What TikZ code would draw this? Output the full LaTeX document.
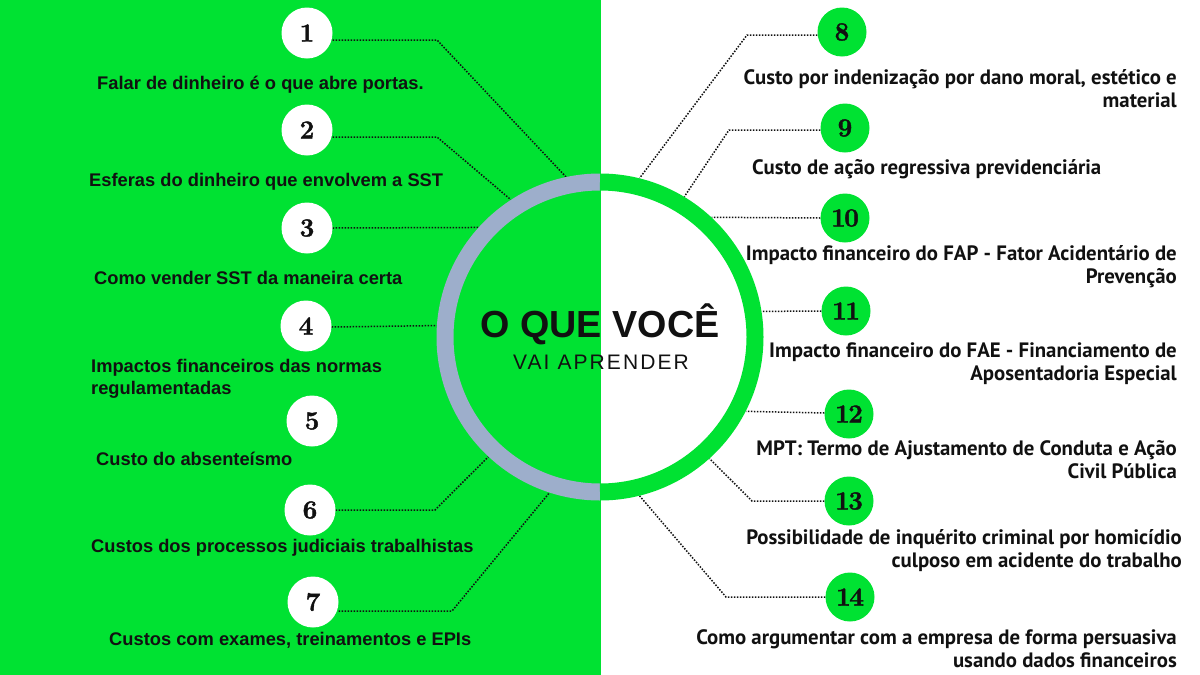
\documentclass[tikz,border=0pt]{standalone}
\usepackage{fontspec}
\newfontfamily\lfont{Liberation Sans}
\newfontfamily\rfont{PT Sans}
\newfontfamily\tfont{Liberation Sans}
\newfontfamily\sfont[LetterSpace=10]{Liberation Sans}
\newfontfamily\numfont[FakeBold=1.6]{Latin Modern Roman}
\definecolor{vgreen}{HTML}{00E232}
\definecolor{ringgrey}{HTML}{9DAECB}
\definecolor{ink}{HTML}{111111}
\pgfdeclarelayer{bg}\pgfdeclarelayer{mid}\pgfsetlayers{bg,mid,main}
\begin{document}
\begin{tikzpicture}[x=1pt,y=-1pt,
  conn/.style={draw=ink, line width=1.5pt, dash pattern=on 1.5pt off 1.5pt},
  numc/.style={circle, inner sep=0pt, font=\numfont\bfseries\fontsize{26}{26}\selectfont, text=ink},
  lnum/.style={numc, fill=white, minimum size=51pt},
  rnum/.style={numc, fill=vgreen, minimum size=49pt},
  ltext/.style={font=\lfont\bfseries\fontsize{18.3}{22}\selectfont, text=ink, inner sep=0pt, align=left},
  rtext/.style={font=\rfont\bfseries\fontsize{20.8}{23}\selectfont, text=ink, inner sep=0pt, align=right},
  ringpart/.style={line width=17pt}
]
\useasboundingbox (0,0) rectangle (1200,675);
\begin{pgfonlayer}{bg}
\fill[vgreen] (0,0) rectangle (601,675);
\fill[white] (601,0) rectangle (1200,675);
\end{pgfonlayer}

\coordinate (ctr) at (600,337);
\node[circle, minimum size=327pt, inner sep=0pt] (ring) at (ctr) {};
\draw[ringpart, ringgrey] ([yshift=155pt]ctr) arc[start angle=90, end angle=270, radius=155pt];
\draw[ringpart, vgreen] ([yshift=155pt]ctr) arc[start angle=90, end angle=-90, radius=155pt];

\node[font=\tfont\bfseries\fontsize{37.7}{40}\selectfont, text=ink, inner sep=0pt, anchor=base] (title) at (600,337) {O QUE VOCÊ};
\node[font=\sfont\fontsize{21}{24}\selectfont, text=ink, inner sep=0pt, anchor=base] (sub) at (601,369) {VAI APRENDER};

% left numbers
\node[lnum] (n1) at (307,33) {1};
\node[lnum] (n2) at (307,130) {2};
\node[lnum] (n3) at (307,228) {3};
\node[lnum] (n4) at (306,326) {4};
\node[lnum] (n5) at (312,421) {5};
\node[lnum] (n6) at (310,510) {6};
\node[lnum] (n7) at (313,602) {7};
% right numbers
\node[rnum] (n8) at (842,32) {8};
\node[rnum] (n9) at (845,128) {9};
\node[rnum] (n10) at (845,218) {1\kern-1.5pt0};
\node[rnum] (n11) at (846,311) {1\kern-1.5pt1};
\node[rnum] (n12) at (849,414) {1\kern-1.5pt2};
\node[rnum] (n13) at (849,501) {1\kern-1.5pt3};
\node[rnum] (n14) at (850,597) {1\kern-1.5pt4};

% left texts
\node[ltext, anchor=base west] (t1) at (97,89) {Falar de dinheiro é o que abre portas.};
\node[ltext, anchor=base west] (t2) at (89,186) {Esferas do dinheiro que envolvem a SST};
\node[ltext, anchor=base west] (t3) at (94,284) {Como vender SST da maneira certa};
\node[ltext, anchor=base west] (t4) at (91,394) {Impactos financeiros das normas\\regulamentadas};
\node[ltext, anchor=base west] (t5) at (96,465) {Custo do absenteísmo};
\node[ltext, anchor=base west] (t6) at (91,552) {Custos dos processos judiciais trabalhistas};
\node[ltext, anchor=base west] (t7) at (109,645) {Custos com exames, treinamentos e EPIs};

% right texts (base = last line)
\node[rtext, anchor=base east] (t8) at (1177,107) {Custo por indenização por dano moral, estético e\\material};
\node[rtext, anchor=base west] (t9) at (752,174) {Custo de ação regressiva previdenciária};
\node[rtext, anchor=base east] (t10) at (1177,283) {Impacto financeiro do FAP - Fator Acidentário de\\Prevenção};
\node[rtext, anchor=base east] (t11) at (1177,380) {Impacto financeiro do FAE - Financiamento de\\Aposentadoria Especial};
\node[rtext, anchor=base east] (t12) at (1177,478) {MPT: Termo de Ajustamento de Conduta e Ação\\Civil Pública};
\node[rtext, anchor=base east] (t13) at (1182,567) {Possibilidade de inquérito criminal por homicídio\\culposo em acidente do trabalho};
\node[rtext, anchor=base east] (t14) at (1177,667) {Como argumentar com a empresa de forma persuasiva\\usando dados financeiros};

% bend points
\coordinate (k1) at (437,40);
\coordinate (k2) at (437,137);
\coordinate (k4) at (437,327);
\coordinate (k6) at (435,510);
\coordinate (k7) at (452,611);
\coordinate (k8) at (747,35);
\coordinate (k9) at (729,130);
\coordinate (k11) at (780,311);
\coordinate (k12) at (780,413);
\coordinate (k13) at (752,501);
\coordinate (k14) at (726,597);

\begin{pgfonlayer}{mid}
\draw[conn] (n1.east |- k1) -- (k1) -- (ring.102.3);
\draw[conn] (n2.east |- k2) -- (k2) -- (ring.123.3);
\draw[conn] (n3.east) -- (ring.138);
\draw[conn] (n4.east |- k4) -- (ring.176.5);
\draw[conn] (n6.east |- k6) -- (k6) -- (ring.227.7);
\draw[conn] (n7.east |- k7) -- (k7) -- (ring.252.2);
\draw[conn] (n8.west |- k8) -- (k8) -- (ring.76);
\draw[conn] (n9.west |- k9) -- (k9) -- (ring.59.4);
\draw[conn] (n10.west) -- (ring.47);
\draw[conn] (n11.west |- k11) -- (ring.9.2);
\draw[conn] (n12.west |- k12) -- (ring.-27.8);
\draw[conn] (n13.west |- k13) -- (k13) -- (ring.-48);
\draw[conn] (n14.west |- k14) -- (k14) -- (ring.-76);
\end{pgfonlayer}
\end{tikzpicture}
\end{document}
